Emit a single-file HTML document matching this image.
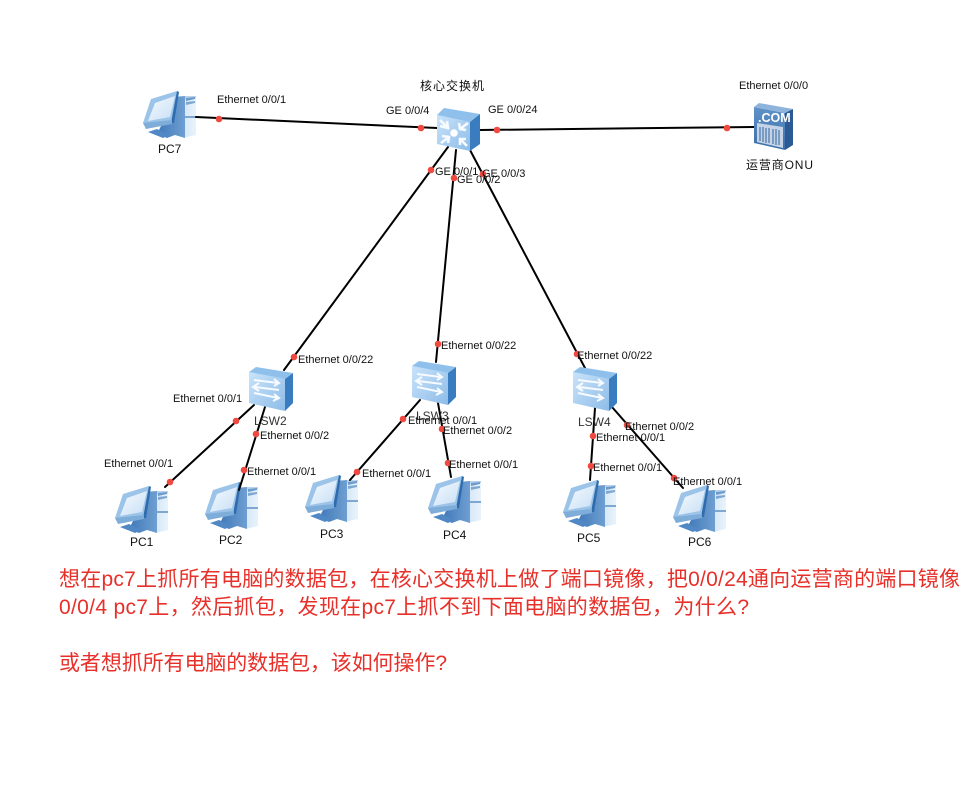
<!DOCTYPE html>
<html lang="zh"><head><meta charset="utf-8"><title>网络拓扑</title>
<style>
html,body{margin:0;padding:0;background:#fff;width:961px;height:792px;overflow:hidden}
svg{display:block}
text{font-family:"Liberation Sans","Noto Sans CJK SC",sans-serif;font-size:11px;fill:#111}
.big{font-size:21px;fill:#e8302a}
.n{font-size:12px}
</style></head><body>
<svg width="961" height="792" viewBox="0 0 961 792" xmlns="http://www.w3.org/2000/svg">
<defs>
<linearGradient id="sc" x1="0" y1="0" x2="1" y2="1"><stop offset="0" stop-color="#f6fbff"/><stop offset="1" stop-color="#c6def4"/></linearGradient>
<linearGradient id="fr" x1="0" y1="0" x2="1" y2="1"><stop offset="0" stop-color="#c9e3fa"/><stop offset="1" stop-color="#8dbce8"/></linearGradient>
<linearGradient id="tw" x1="0" y1="0" x2="1" y2="0"><stop offset="0" stop-color="#d4e6f7"/><stop offset="1" stop-color="#e9f3fb"/></linearGradient>
<linearGradient id="dk" x1="0" y1="0" x2="1" y2="0"><stop offset="0" stop-color="#3f78b8"/><stop offset="1" stop-color="#6f9fd2"/></linearGradient>
<linearGradient id="cf" x1="0" y1="0" x2="0" y2="1"><stop offset="0" stop-color="#5f93c8"/><stop offset="1" stop-color="#3d6ea8"/></linearGradient>
<g id="pc">
<polygon points="40,6 53,6 53,45 40,48" fill="url(#tw)"/>
<polygon points="30,7 42,6 42,48 32,45 24,48 14,44 18,36 27,30" fill="url(#dk)"/>
<polygon points="42,6 53,6 53,8 42,9" fill="#b9d3ec"/>
<polygon points="43,8 52,7 52,9 43,11" fill="#6d9ccc"/>
<polygon points="43,12 52,11 52,13 43,15" fill="#7ea8d2"/>
<rect x="42" y="26" width="11" height="2" fill="#7ea8d2"/>
<polygon points="5,42 14,39 26,45 20,48" fill="#4f88c4"/>
<polygon points="8,9 34,1 35,4 30,32 1,35 0,33" fill="#9cc3e8"/>
<polygon points="34,1 36,2 31,33 28,33" fill="#2f6cae"/>
<polygon points="12,13 32,6 27,27 5,31" fill="url(#sc)"/>
<polygon points="0,33 29,30 29,34 3,39" fill="#7fadd9"/>
</g>
<g id="sw">
<polygon points="0,5 36,12 36,44 0,36" fill="url(#fr)"/>
<polygon points="0,5 7,0 44,6 36,12" fill="#8fc0ec"/>
<polygon points="36,12 44,6 44,36 36,44" fill="#3a7cc0"/>
<g fill="none" stroke="#f7fbff" stroke-width="2">
<path d="M5,13 L29,16 M25,12 L30,16 L25,19"/>
<path d="M30,23 L6,20 M10,16 L4,20 L10,24"/>
<path d="M5,26 L29,31 M25,27 L30,31 L24,34"/>
</g>
</g>
<g id="core">
<polygon points="0,7 33,14 33,43 0,36" fill="url(#fr)"/>
<polygon points="0,7 7,0 43,6 33,14" fill="#8fc0ec"/>
<polygon points="33,14 43,6 43,36 33,43" fill="#3a7cc0"/>
<circle cx="17" cy="25" r="3.8" fill="#fff"/>
<g fill="none" stroke="#f7fbff" stroke-width="2.6">
<path d="M3,12 L11,20 M3,18 L11,20 L10,13"/>
<path d="M31,15 L23,21 M22,15 L23,21 L29,22"/>
<path d="M4,35 L12,29 M5,28 L12,29 L11,35"/>
<path d="M30,38 L23,31 M23,37 L23,31 L29,31"/>
</g>
</g>
</defs>

<use href="#pc" x="143" y="90"/>
<use href="#pc" x="115" y="485"/>
<use href="#pc" x="205" y="481"/>
<use href="#pc" x="305" y="474"/>
<use href="#pc" x="428" y="475"/>
<use href="#pc" x="563" y="479"/>
<use href="#pc" x="673" y="484"/>

<g stroke="#000" stroke-width="2" fill="none" stroke-linecap="round">
<path d="M196,117 L437,128"/>
<path d="M480,130 L754,127"/>
<path d="M448,147 L284,370"/>
<path d="M456,150 L436,362"/>
<path d="M470,150 L585,368"/>
<path d="M254,405 L165,487"/>
<path d="M265,407 L239,490"/>
<path d="M420,400 L350,480"/>
<path d="M438,403 L451,477"/>
<path d="M595,408 L590,480"/>
<path d="M612,407 L683,488"/>
</g>

<use href="#core" x="437" y="108"/>
<use href="#sw" x="249" y="367"/>
<use href="#sw" x="412" y="361"/>
<use href="#sw" x="573" y="367"/>

<!-- ONU server -->
<polygon points="754,107 785,113 785,150 754,143" fill="url(#cf)"/>
<polygon points="754,107 759,103 793,109 785,113" fill="#8fb4dc"/>
<polygon points="785,113 793,109 793,145 785,150" fill="#2c5a94"/>
<polygon points="757,123 783,127 783,148 757,142" fill="#c4d4e6"/>
<g stroke="#4a76aa" stroke-width="1.2">
<path d="M760,127V141M763,127V142M766,128V143M769,128V143M773,129V144M776,129V145M779,130V145"/>
</g>
<text x="758" y="122" style="font-size:12.5px;font-weight:bold;fill:#fff">.COM</text>

<g fill="#f04a40">
<circle cx="219" cy="119" r="3.3"/><circle cx="421" cy="128" r="3.3"/>
<circle cx="497" cy="130" r="3.3"/><circle cx="727" cy="128" r="3.3"/>
<circle cx="431" cy="170" r="3.3"/><circle cx="454" cy="178" r="3.3"/><circle cx="483" cy="174" r="3.3"/>
<circle cx="294" cy="357" r="3.3"/><circle cx="438" cy="344" r="3.3"/><circle cx="577" cy="354" r="3.3"/>
<circle cx="236" cy="421" r="3.3"/><circle cx="256" cy="434" r="3.3"/>
<circle cx="170" cy="482" r="3.3"/><circle cx="244" cy="470" r="3.3"/>
<circle cx="403" cy="419" r="3.3"/><circle cx="442" cy="429" r="3.3"/>
<circle cx="357" cy="472" r="3.3"/><circle cx="448" cy="463" r="3.3"/>
<circle cx="593" cy="436" r="3.3"/><circle cx="627" cy="425" r="3.3"/>
<circle cx="591" cy="466" r="3.3"/><circle cx="674" cy="478" r="3.3"/>
</g>

<text x="217" y="103">Ethernet 0/0/1</text>
<text x="420" y="90" class="n" textLength="64">核心交换机</text>
<text x="386" y="114">GE 0/0/4</text>
<text x="488" y="113">GE 0/0/24</text>
<text x="435" y="175">GE 0/0/1</text>
<text x="457" y="183">GE 0/0/2</text>
<text x="482" y="177">GE 0/0/3</text>
<text x="739" y="89">Ethernet 0/0/0</text>
<text x="746" y="169" class="n" textLength="67">运营商ONU</text>
<text x="158" y="153" class="n">PC7</text>
<text x="298" y="363">Ethernet 0/0/22</text>
<text x="173" y="402">Ethernet 0/0/1</text>
<text x="254" y="425" class="n" style="fill:#333">LSW2</text>
<text x="260" y="439">Ethernet 0/0/2</text>
<text x="104" y="467">Ethernet 0/0/1</text>
<text x="247" y="475">Ethernet 0/0/1</text>
<text x="441" y="349">Ethernet 0/0/22</text>
<text x="416" y="420" class="n" style="fill:#333">LSW3</text>
<text x="408" y="424">Ethernet 0/0/1</text>
<text x="443" y="434">Ethernet 0/0/2</text>
<text x="362" y="477">Ethernet 0/0/1</text>
<text x="449" y="468">Ethernet 0/0/1</text>
<text x="577" y="359">Ethernet 0/0/22</text>
<text x="578" y="426" class="n" style="fill:#333">LSW4</text>
<text x="625" y="430">Ethernet 0/0/2</text>
<text x="596" y="441">Ethernet 0/0/1</text>
<text x="593" y="471">Ethernet 0/0/1</text>
<text x="673" y="485">Ethernet 0/0/1</text>
<text x="130" y="546" class="n">PC1</text>
<text x="219" y="544" class="n">PC2</text>
<text x="320" y="538" class="n">PC3</text>
<text x="443" y="539" class="n">PC4</text>
<text x="577" y="542" class="n">PC5</text>
<text x="688" y="546" class="n">PC6</text>

<text x="59" y="586" class="big" textLength="901" lengthAdjust="spacing">想在pc7上抓所有电脑的数据包，在核心交换机上做了端口镜像，把0/0/24通向运营商的端口镜像</text>
<text x="59" y="614" class="big" textLength="690" lengthAdjust="spacing">0/0/4 pc7上，然后抓包，发现在pc7上抓不到下面电脑的数据包，为什么?</text>
<text x="59" y="670" class="big" textLength="388" lengthAdjust="spacing">或者想抓所有电脑的数据包，该如何操作?</text>
</svg>
</body></html>
